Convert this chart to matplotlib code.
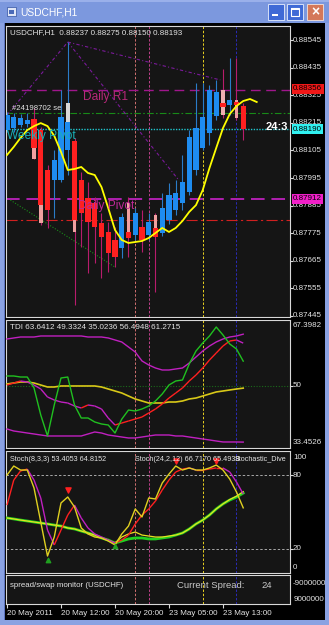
import numpy as np
import matplotlib
matplotlib.use("Agg")
import matplotlib.pyplot as plt
from matplotlib.patches import Rectangle
from matplotlib.collections import LineCollection

plt.rcParams['font.family'] = ['Liberation Sans', 'DejaVu Sans']

W, H = 329, 625

# ---- USDCHF H1 bars (smoothed bars + the plain candle body where it shows) ----
ha_open = [0.88186, 0.88194, 0.88206, 0.88210, 0.88230, 0.88186, 0.88027, 0.87987, 0.87987, 0.88107,
           0.88143, 0.87987, 0.87915, 0.87895, 0.87816, 0.87780, 0.87748, 0.87716, 0.87780, 0.87768,
           0.87800, 0.87768, 0.87796, 0.87776, 0.87828, 0.87868, 0.87895, 0.87939, 0.88027, 0.88115,
           0.88174, 0.88242, 0.88294, 0.88286, 0.88298, 0.88282]
ha_close = [0.88246, 0.88238, 0.88234, 0.88226, 0.88115, 0.87887, 0.87868, 0.88067, 0.88238, 0.88218,
            0.87828, 0.87856, 0.87820, 0.87800, 0.87760, 0.87696, 0.87680, 0.87840, 0.87756, 0.87856,
            0.87748, 0.87820, 0.87760, 0.87875, 0.87927, 0.87935, 0.87979, 0.88159, 0.88194, 0.88238,
            0.88346, 0.88338, 0.88278, 0.88306, 0.88286, 0.88190]
bar_high = [0.88258, 0.88254, 0.88250, 0.88254, 0.88274, 0.88198, 0.88047, 0.88107, 0.88346, 0.88537,
            0.88155, 0.88019, 0.87979, 0.87919, 0.87856, 0.87820, 0.87800, 0.87856, 0.87919, 0.87875,
            0.87868, 0.87856, 0.87856, 0.87935, 0.87975, 0.87987, 0.88087, 0.88186, 0.88374, 0.88374,
            0.88366, 0.88386, 0.88430, 0.88473, 0.88473, 0.88294]
bar_low = [0.88178, 0.88178, 0.88198, 0.88198, 0.88071, 0.87808, 0.87796, 0.87836, 0.87979, 0.88007,
           0.87489, 0.87720, 0.87616, 0.87656, 0.87596, 0.87620, 0.87640, 0.87676, 0.87680, 0.87748,
           0.87700, 0.87748, 0.87541, 0.87764, 0.87812, 0.87848, 0.87868, 0.87927, 0.88007, 0.88107,
           0.88127, 0.88226, 0.88234, 0.88246, 0.88226, 0.88147]
alt_idx = [4, 5, 9, 10, 18, 22, 32, 34]
alt_top = [0.88230, 0.88186, 0.88294, 0.88143, 0.87895, 0.87848, 0.88346, 0.88306]
alt_bot = [0.88071, 0.87816, 0.88107, 0.87780, 0.87756, 0.87760, 0.88246, 0.88234]
alt_col = ['#f0a0a0', '#f0a0a0', '#d8d8d8', '#f0a0a0', '#f0a0a0', '#f0a0a0', '#f0b0b0', '#f0a0a0']

# shifted moving average (runs two bars past the last candle)
ma_line = [0.88087, 0.88119, 0.88155, 0.88186, 0.88202, 0.88214, 0.88202, 0.88163, 0.88099, 0.88027,
           0.88031, 0.88039, 0.88015, 0.88007, 0.87959, 0.87875, 0.87788, 0.87748, 0.87736, 0.87740,
           0.87744, 0.87756, 0.87776, 0.87796, 0.87780, 0.87796, 0.87824, 0.87860, 0.87887, 0.87947,
           0.88035, 0.88115, 0.88194, 0.88250, 0.88282, 0.88302, 0.88310, 0.88298]

daily_r1 = 0.88346
green_level = 0.88254
weekly_pivot = 0.88190
daily_pivot = 0.87912
red_level = 0.87828
main_ticks = [0.88545, 0.88435, 0.88325, 0.88215, 0.88105, 0.87995, 0.87885, 0.87775, 0.87665, 0.87555, 0.87445]

# trend lines: (bar, price) pairs
trend_purple = [([0, 9], [0.88246, 0.88537]), ([9, 31.6], [0.88537, 0.88386]), ([9, 25.5], [0.88537, 0.87985])]
trend_green = ([0.5, 16], [0.87907, 0.87640])

# ---- TDI ----
tdi_rsi = [52.55, 52.55, 52.28, 52.28, 49.37, 42.21, 36.64, 44.86, 52.02, 52.28, 44.86, 41.41, 41.41, 40.35,
           39.82, 39.55, 37.43, 41.10, 43.53, 43.27, 43.80, 44.59, 45.92, 47.78, 50.16, 51.22, 51.49, 55.73,
           59.18, 61.30, 63.16, 65.54, 63.42, 61.04, 59.71, 56.49]
tdi_signal = [50.16, 50.69, 51.22, 50.96, 50.16, 49.10, 46.98, 46.18, 45.65, 45.39, 44.59, 44.06, 44.86, 44.59,
              43.80, 41.41, 39.55, 40.08, 40.61, 41.14, 41.68, 42.74, 43.80, 45.12, 46.71, 48.04, 49.37, 51.22,
              52.81, 54.67, 56.79, 58.65, 60.50, 61.83, 62.10, 61.27]
tdi_upper = [62.36, 62.63, 62.89, 62.89, 62.89, 63.16, 63.16, 63.16, 63.16, 63.16, 63.16, 63.16, 62.89, 62.89,
             62.89, 62.63, 62.10, 61.57, 60.24, 58.91, 56.53, 55.47, 54.67, 54.14, 54.14, 54.41, 54.67, 55.99,
             57.59, 59.18, 60.50, 61.57, 62.36, 62.89, 63.16, 63.64]
tdi_lower = [38.49, 37.96, 37.70, 37.43, 37.17, 36.90, 36.64, 36.64, 36.64, 36.64, 36.64, 36.64, 37.17, 37.70,
             37.43, 36.90, 36.64, 36.37, 36.11, 36.11, 36.37, 36.64, 36.90, 36.90, 36.90, 36.64, 36.64, 36.37,
             36.11, 35.84, 35.58, 35.31, 35.05, 35.05, 35.05, 35.02]
tdi_mid = [50.43, 50.69, 50.96, 50.96, 50.69, 50.16, 49.63, 49.63, 49.90, 49.90, 49.90, 49.90, 49.90, 49.90,
           49.63, 49.10, 48.57, 48.04, 47.24, 46.45, 45.92, 45.39, 45.39, 45.39, 45.65, 45.65, 45.92, 46.45,
           46.71, 47.24, 47.78, 48.31, 48.57, 48.84, 49.10, 49.33]

# ---- Stochastics ----
sto_fast = [80.3, 87.7, 84.4, 84.4, 69.7, 41.8, 13.9, 29.5, 57.4, 62.3, 54.1, 36.9, 32.0, 29.5, 28.7, 26.2,
            23.0, 32.0, 38.5, 52.5, 45.9, 61.5, 60.7, 73.8, 81.1, 87.7, 84.4, 86.1, 84.4, 84.4, 86.1, 88.5,
            84.4, 77.0, 66.4, 53.4]
sto_sig = [55.7, 76.2, 83.6, 85.2, 76.2, 61.5, 35.2, 23.0, 35.2, 47.5, 55.7, 45.1, 36.9, 32.0, 29.5, 27.0,
           24.6, 27.0, 31.1, 40.2, 47.5, 52.5, 59.0, 68.0, 76.2, 82.8, 85.2, 86.1, 84.4, 84.4, 85.2, 86.1,
           86.1, 82.8, 74.6, 64.8]
sto_slow = [45.1, 44.3, 43.4, 42.6, 41.8, 41.0, 40.2, 39.3, 38.5, 36.9, 36.1, 34.4, 32.8, 31.1, 28.7, 27.0,
            24.6, 26.2, 27.9, 28.7, 28.7, 27.9, 27.9, 28.7, 29.5, 31.1, 32.8, 36.1, 40.2, 43.4, 47.5, 52.5,
            56.6, 59.8, 62.3, 65.5]
sto_slow_sig = [45.1, 44.3, 43.4, 42.6, 41.8, 41.0, 40.2, 39.3, 38.5, 36.9, 36.1, 34.4, 32.8, 31.1, 28.7, 27.0,
                24.6, 29.5, 32.0, 33.6, 31.1, 30.3, 29.5, 29.5, 30.3, 31.1, 32.8, 36.1, 40.2, 43.4, 47.5, 52.5,
                56.6, 60.2, 63.0, 66.7]
arrow_dn_x = [9, 25, 31]
arrow_dn_y = [68, 92, 92]
arrow_up_x = [6, 16]
arrow_up_y = [11, 22]

sep_pos = [19, 21, 29, 34]
sep_col = ['#d07070', '#c0408a', '#e8d020', '#2a2ab8']
date_pos = [0, 8, 16, 24, 32]
date_labels = ['20 May 2011', '20 May 12:00', '20 May 20:00', '23 May 05:00', '23 May 13:00']

BG = '#151515'
FRAME = '#d8d8d8'
TXT = '#e4e4e4'
BULL = '#1e8cf0'
BEAR = '#ff2020'
XLIM = (-0.15, 41.93)


def fbox(x0, y0, x1, y1):
    return [x0 / W, 1 - y1 / H, (x1 - x0) / W, (y1 - y0) / H]


def slope_line(ax, y, up, down, lw):
    xs = np.arange(len(y))
    pts = np.column_stack([xs, y])
    segs = np.stack([pts[:-1], pts[1:]], axis=1)
    cols = [up if b >= a else down for a, b in zip(y[:-1], y[1:])]
    ax.add_collection(LineCollection(segs, colors=cols, linewidths=lw, zorder=4))


def style(ax):
    ax.set_facecolor(BG)
    ax.set_xlim(*XLIM)
    for s in ax.spines.values():
        s.set_color(FRAME)
        s.set_linewidth(0.8)
    ax.yaxis.tick_right()
    ax.tick_params(axis='y', length=2, color=FRAME, labelright=False)
    ax.set_xticks([])
    for xp, col in zip(sep_pos, sep_col):
        ax.axvline(xp, color=col, lw=0.7, dashes=(2.5, 1.8), zorder=1)


def rlabel(ax, y, s, va='center', **kw):
    ax.text(1.0106, y, s, transform=ax.get_yaxis_transform(), ha='left', va=va,
            fontsize=5.8, color=TXT, clip_on=False, **kw)


fig = plt.figure(figsize=(W / 100, H / 100), dpi=100, facecolor='black')

# ---------------- main price panel ----------------
ax = fig.add_axes(fbox(6, 26, 290, 317))
style(ax)
ax.set_ylim(0.87441, 0.88601)
ax.set_yticks(main_ticks)
for t in main_ticks:
    rlabel(ax, t, f'{t:.5f}')

ax.axhline(daily_r1, color='#a0168c', lw=1.0, dashes=(7, 4), zorder=2)
ax.axhline(green_level, color='#188a18', lw=0.8, dashes=(6, 2, 1.5, 2), zorder=2)
ax.axhline(weekly_pivot, color='#20c8d0', lw=1.0, dashes=(1, 1), zorder=2)
ax.axhline(daily_pivot, color='#b020b0', lw=1.4, dashes=(7, 3.5), zorder=2)
ax.axhline(red_level, color='#d02020', lw=0.8, dashes=(10, 3, 2, 3), zorder=2)
for tx, ty in trend_purple:
    ax.plot(tx, ty, color='#7a1a9a', lw=0.8, dashes=(3, 2, 1, 2), zorder=2)
ax.plot(*trend_green, color='#1a8a1a', lw=0.8, dashes=(1, 1.5), zorder=2)

xs = np.arange(len(ha_open))
o = np.array(ha_open)
c = np.array(ha_close)
rising = c >= o
ax.vlines(xs, bar_low, bar_high, colors=np.where(rising, '#2a7cc8', '#b81c6c'), lw=0.8, zorder=3)
ax.bar(alt_idx, np.array(alt_top) - np.array(alt_bot), bottom=alt_bot, width=0.55, color=alt_col, zorder=4)
ax.bar(xs, np.maximum(np.abs(c - o), 0.00003), bottom=np.minimum(o, c), width=0.75,
       color=np.where(rising, BULL, BEAR), zorder=5)
ax.plot(np.arange(len(ma_line)), ma_line, color='#ffff00', lw=1.3, zorder=6)

ax.text(11.3, daily_r1 - 0.00004, 'Daily R1', color='#b8287a', fontsize=8.6, va='top', ha='left', zorder=7)
ax.text(0.0, weekly_pivot - 0.00004, 'Weekly Pivot', color='#18b0b8', fontsize=8.6, va='top', ha='left', zorder=7)
ax.text(10.5, daily_pivot - 0.00004, 'Daily Pivot', color='#c02898', fontsize=8.6, va='top', ha='left', zorder=7)
ax.text(0.74, 0.88274, '#24198702 se', color=TXT, fontsize=5.6, va='center', ha='left', zorder=7)
ax.text(0.014, 0.976, 'USDCHF,H1  0.88237 0.88275 0.88150 0.88193', transform=ax.transAxes,
        color=TXT, fontsize=5.8, va='center', ha='left', zorder=7)
# bar countdown, cut at the chart edge
ax.text(38.3, 0.88198, '24:3', color='white', fontsize=8.0, fontweight='bold', va='center', ha='left',
        zorder=8)
for price, s, fc in [(0.88350, '0.88356', '#f01818'), (weekly_pivot, '0.88190', '#30f0f0'),
                     (daily_pivot, '0.87912', '#f020c8')]:
    ax.text(1.0106, price, s, transform=ax.get_yaxis_transform(), ha='left', va='center', fontsize=5.8,
            color='black', clip_on=False, zorder=10,
            bbox=dict(boxstyle='square,pad=0.18', fc=fc, ec='none'))

# ---------------- TDI panel ----------------
ax2 = fig.add_axes(fbox(6, 320, 290, 448))
style(ax2)
ax2.set_ylim(33.4526, 67.3982)
ax2.set_yticks([50])
ax2.axhline(50, color='#1a6a1a', lw=0.8, dashes=(1, 1.5), zorder=1)
ax2.plot(tdi_upper, color='#c020c0', lw=1.0, zorder=3)
ax2.plot(tdi_lower, color='#c020c0', lw=1.0, zorder=3)
ax2.plot(tdi_mid, color='#d8c818', lw=1.2, zorder=3)
slope_line(ax2, tdi_signal, '#ff2020', '#c020c0', 1.0)
ax2.plot(tdi_rsi, color='#20c020', lw=1.0, zorder=5)
ax2.text(0.014, 0.945, 'TDI 63.6412 49.3324 35.0236 56.4948 61.2715', transform=ax2.transAxes,
         color=TXT, fontsize=5.8, va='center', ha='left')
rlabel(ax2, 66.0, '67.3982')
rlabel(ax2, 50, '50')
rlabel(ax2, 34.9, '33.4526')

# ---------------- Stochastic panel ----------------
ax3 = fig.add_axes(fbox(6, 451, 290, 573))
style(ax3)
ax3.set_ylim(0, 100)
ax3.set_yticks([80, 20])
for lv in (80, 20):
    ax3.axhline(lv, color='#a8a8a8', lw=0.7, dashes=(2.5, 2), zorder=1)
ax3.plot(sto_slow, color='#20d020', lw=2.0, zorder=3)
ax3.plot(sto_slow_sig, color='#e8e020', lw=0.9, zorder=4)
slope_line(ax3, sto_sig, '#ff2020', '#c020c0', 1.0)
ax3.plot(sto_fast, color='#e0d020', lw=1.0, zorder=5)
ax3.scatter(arrow_dn_x, arrow_dn_y, marker='v', s=14, color='#ff2020', zorder=6)
ax3.scatter(arrow_up_x, arrow_up_y, marker='^', s=10, color='#20a020', zorder=6)
for xa, s in [(0.014, 'Stoch(8,3,3) 53.4053 64.8152'), (0.454, 'Stoch(24,2,12) 66.7170 65.4938'),
              (0.805, 'Stochastic_Dive')]:
    ax3.text(xa, 0.934, s, transform=ax3.transAxes, color=TXT, fontsize=5.2, va='center', ha='left',
             zorder=7)
rlabel(ax3, 95, '100')
rlabel(ax3, 80, '80')
rlabel(ax3, 20, '20')
rlabel(ax3, 4.5, '0')

# ---------------- spread monitor panel ----------------
ax4 = fig.add_axes(fbox(6, 575, 290, 604))
style(ax4)
ax4.set_ylim(0, 1)
ax4.set_yticks([])
ax4.set_xticks(date_pos)
ax4.set_xticklabels(date_labels, ha='left')
ax4.tick_params(axis='x', length=3, color=FRAME, colors=TXT, labelsize=5.8, pad=1)
ax4.text(0.014, 0.655, 'spread/swap monitor (USDCHF)', transform=ax4.transAxes, color=TXT,
         fontsize=5.7, va='center', ha='left')
ax4.text(0.602, 0.655, 'Current Spread:', transform=ax4.transAxes, color='#c8c8c8',
         fontsize=6.8, va='center', ha='left')
ax4.text(0.901, 0.655, '24', transform=ax4.transAxes, color='#c8c8c8', fontsize=6.8, va='center', ha='left')
ax4.text(1.0106, 0.72, '-9000000', transform=ax4.transAxes, color=TXT, fontsize=5.8, va='center',
         ha='left', clip_on=False)
ax4.text(1.0140, 0.17, '9000000', transform=ax4.transAxes, color=TXT, fontsize=5.8, va='center',
         ha='left', clip_on=False)

# ---------------- window chrome ----------------
def frect(x0, y0, x1, y1, fc, ec='none', lw=0.0, z=20):
    fig.add_artist(Rectangle((x0 / W, 1 - y1 / H), (x1 - x0) / W, (y1 - y0) / H,
                             transform=fig.transFigure, fc=fc, ec=ec, lw=lw, zorder=z))


frect(0, 0, W, 23, '#7c98de')
frect(0, 0, W, 2, '#9ab0ea', z=21)
frect(0, 23, 4, H, '#8aa2e2')
frect(325, 23, W, H, '#8aa2e2')
frect(0, 620, W, H, '#8aa2e2')
frect(4, 23, 5, 620, '#5c74c0', z=21)
# icon
frect(7, 7, 16, 16, '#dfe6f6', ec='#3050a0', lw=0.5, z=22)
frect(9, 10, 14, 14, '#4a6ab8', z=23)
fig.text(20 / W, 1 - 12.5 / H, 'USDCHF,H1', color='white', fontsize=7.4, va='center', ha='left', zorder=22)
# buttons
frect(268, 4, 284, 20, '#3f6ad6', ec='#e8eefc', lw=0.6, z=22)
frect(272, 14, 278, 16, 'white', z=23)
frect(287, 4, 303, 20, '#3f6ad6', ec='#e8eefc', lw=0.6, z=22)
frect(291, 8, 299, 16, 'none', ec='white', lw=0.8, z=23)
frect(291, 8, 299, 9.5, 'white', z=23)
frect(307, 4, 323, 20, '#d4785a', ec='#f4e4dc', lw=0.6, z=22)
fig.text(315 / W, 1 - 12 / H, '×', color='white', fontsize=10, fontweight='bold', va='center', ha='center',
         zorder=23)

fig.savefig('out.png', dpi=100, facecolor='black')
